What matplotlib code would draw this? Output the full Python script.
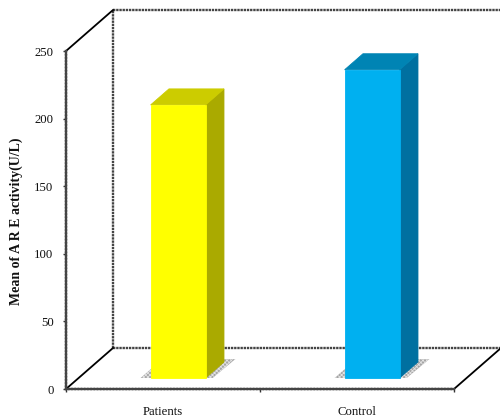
import matplotlib
matplotlib.use('Agg')
import matplotlib.pyplot as plt
from matplotlib.patches import Polygon

plt.rcParams['font.family'] = ['Liberation Serif', 'DejaVu Serif']
plt.rcParams['hatch.linewidth'] = 0.6

categories = ['Patients', 'Control']
values = [202, 228]
front_colors = ['#FFFF00', '#00B0F0']
side_colors = ['#AAAA00', '#0070A0']
top_colors = ['#CCCC00', '#0084B4']
yticks = [0, 50, 100, 150, 200, 250]

W, H = 500, 420
fig = plt.figure(figsize=(W / 100, H / 100), dpi=100)
ax = fig.add_axes([66 / W, (H - 389) / H, 388 / W, 338 / H])
ax.set_xlim(0, len(categories))
ax.set_ylim(0, 250)

# one pixel in data units, used for the fake 3d depth
px_x = len(categories) / 388
px_y = 250 / 338
depth_x = 47 * px_x
depth_y = 41 * px_y


def proj(x, y, d):
    return (x + d * depth_x, y + d * depth_y)


line_col = '#444444'
line_ls = (0, (1, 0.35))
wall = dict(color=line_col, lw=1.7, ls=line_ls, clip_on=False, zorder=1)
diag = dict(color='black', lw=1.3, clip_on=False, zorder=1)

# back wall and floor
x0, x1 = ax.get_xlim()
y0, y1 = ax.get_ylim()
ax.plot(*zip(proj(x0, y0, 1), proj(x0, y1, 1)), **wall)
ax.plot(*zip(proj(x0, y1, 1), proj(x1, y1, 1)), **wall)
ax.plot(*zip(proj(x0, y0, 1), proj(x1, y0, 1)), **wall)
ax.plot(*zip(proj(x0, y0, 0), proj(x0, y0, 1)), **diag)
ax.plot(*zip(proj(x0, y1, 0), proj(x0, y1, 1)), **diag)
ax.plot(*zip(proj(x1, y0, 0), proj(x1, y0, 1)), **diag)

# bars
bar_w = 55 * px_x
d_front = 11 / 41
d_back = 27 / 41
for i, v in enumerate(values):
    left = i + 0.5 + 0.013 - bar_w / 2
    right = left + bar_w
    # shadow on the floor
    shadow = [proj(left - 10 * px_x, 0, d_front), proj(right + 7 * px_x, 0, d_front),
              proj(right + 8 * px_x, 0, d_back + 3 / 41), proj(left - 10 * px_x, 0, d_back + 3 / 41)]
    ax.add_patch(Polygon(shadow, facecolor='#A6A6A6', edgecolor='#E2E2E2', hatch='xxxxxxxx',
                         lw=0, clip_on=False, zorder=2))
    front = [proj(left, 0, d_front), proj(right, 0, d_front), proj(right, v, d_front), proj(left, v, d_front)]
    side = [proj(right, 0, d_front), proj(right, 0, d_back), proj(right, v, d_back), proj(right, v, d_front)]
    top = [proj(left, v, d_front), proj(right, v, d_front), proj(right, v, d_back), proj(left, v, d_back)]
    ax.add_patch(Polygon(side, facecolor=side_colors[i], edgecolor=side_colors[i], lw=0.6, clip_on=False, zorder=3))
    ax.add_patch(Polygon(top, facecolor=top_colors[i], edgecolor=top_colors[i], lw=0.6, clip_on=False, zorder=3))
    ax.add_patch(Polygon(front, facecolor=front_colors[i], edgecolor=front_colors[i], lw=0.6, clip_on=False, zorder=4))

# axes
for s in ['top', 'right']:
    ax.spines[s].set_visible(False)
for s in ['left', 'bottom']:
    ax.spines[s].set_color(line_col)
    ax.spines[s].set_linewidth(1.7)
    ax.spines[s].set_linestyle(line_ls)

ax.set_yticks(yticks)
ax.tick_params(axis='y', labelsize=9.2, length=2, width=1, pad=7, color='#333333', labelcolor='#111111')
ax.set_xticks([0, 1, 2])
ax.set_xticklabels([])
ax.set_xticks([i + 0.5 for i in range(len(categories))], minor=True)
ax.set_xticklabels(categories, minor=True, fontsize=9.2, color='#111111')
ax.tick_params(axis='x', which='major', length=2, width=1, direction='out', color='#333333')
ax.tick_params(axis='x', which='minor', length=0, pad=12)

fig.text(16 / W, 1 - 221 / H, 'Mean of A R E activity(U/L)', rotation=90, ha='center', va='center',
         fontsize=10, fontweight='bold', color='#111111')

fig.savefig('out.png', dpi=100)
